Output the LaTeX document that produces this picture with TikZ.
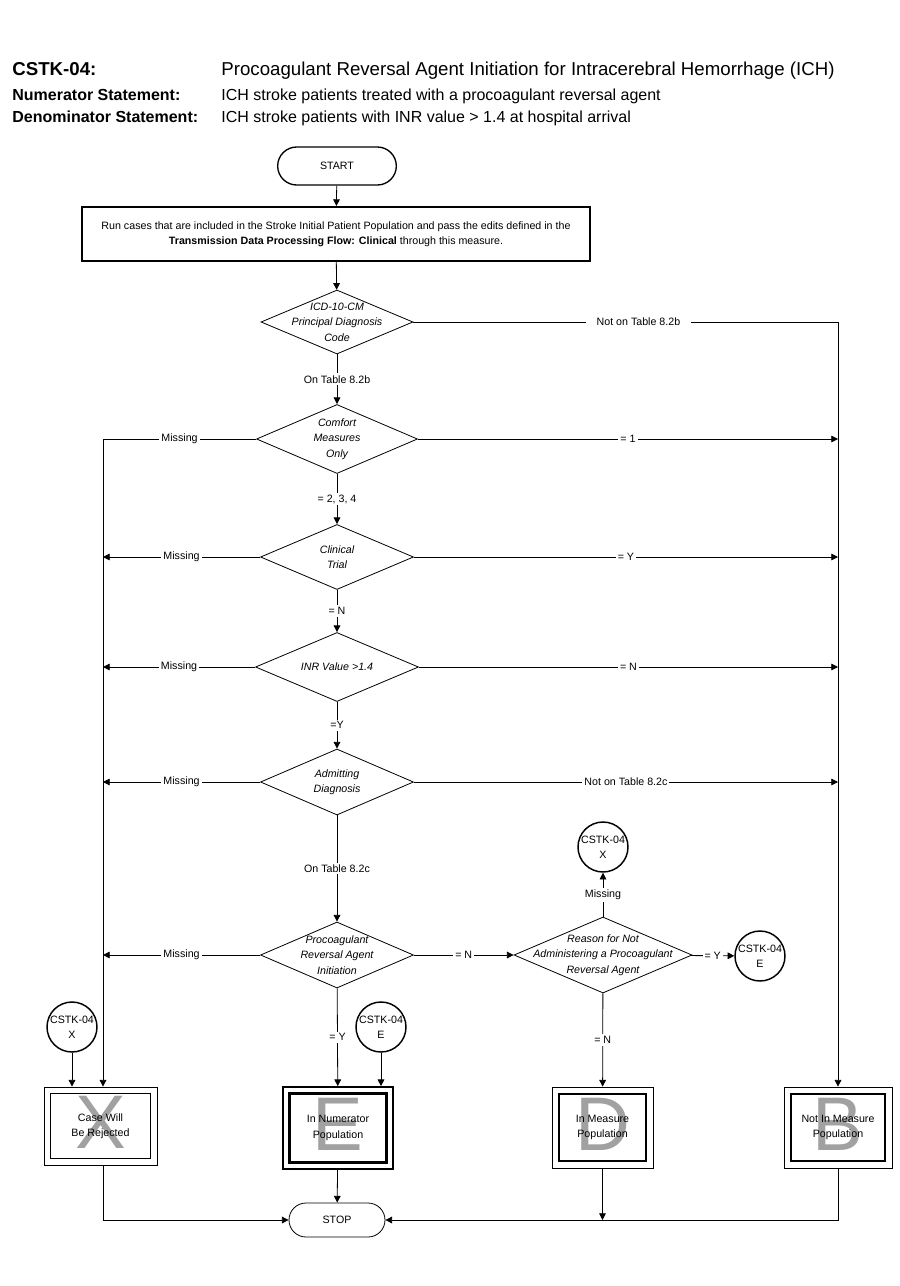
\documentclass[tikz,border=0pt]{standalone}
\usepackage{fontspec}
\setmainfont{Liberation Sans}
\usepackage{tikz}
\usetikzlibrary{arrows.meta,calc,shapes.geometric}

\newcommand{\ftxt}{\fontsize{8}{11.5}\selectfont}
\newcommand{\bigltr}{\fontsize{57}{57}\selectfont}

\tikzset{
  arr/.style={-{Triangle[length=5pt,width=5pt]}},
  lbl/.style={fill=white, inner sep=1.5pt, font=\ftxt},
  term/.style 2 args={draw, rectangle, rounded corners=#2/2, minimum width=#1, minimum height=#2, inner sep=0pt, font=\ftxt},
  dec/.style n args={3}{diamond, draw, inner sep=0pt, minimum width=#1, minimum height=#2,
    label={[align=center, font=\ftxt\itshape]center:#3}},
  conn/.style={circle, draw, line width=1.1pt, inner sep=0pt, minimum size=37.5pt,
    label={[align=center, font=\ftxt]center:#1}},
  endbox/.style n args={4}{draw, minimum width=#1, minimum height=#2, inner sep=0pt, align=center, font=\ftxt,
    path picture={
      \node[text=black!37, font=\bigltr, inner sep=0pt] at ([yshift=2.5pt]path picture bounding box.center) {#3};
      \draw[line width=#4] ([shift={(5pt,-5pt)}]path picture bounding box.north west)
        rectangle ([shift={(-5pt,5pt)}]path picture bounding box.south east);
    }},
}

\begin{document}
\begin{tikzpicture}[x=0.75pt, y=-0.75pt, line width=0.6pt]
	\useasboundingbox (0,0) rectangle (900,1286);
	% heading
	\node[anchor=base west, inner sep=0pt, font=\fontsize{14}{16}\selectfont\bfseries] (hdA) at (12,75) {CSTK-04:};
	\node[anchor=base west, inner sep=0pt, font=\fontsize{14}{16}\selectfont] (hdAt) at (221,75) {Procoagulant Reversal Agent Initiation for Intracerebral Hemorrhage (ICH)};
	\node[anchor=base west, inner sep=0pt, font=\fontsize{12}{14}\selectfont\bfseries] (hdN) at (12,100) {Numerator Statement:};
	\node[anchor=base west, inner sep=0pt, font=\fontsize{12}{14}\selectfont] (hdNt) at (221,100) {ICH stroke patients treated with a procoagulant reversal agent};
	\node[anchor=base west, inner sep=0pt, font=\fontsize{12}{14}\selectfont\bfseries] (hdD) at (12,122) {Denominator Statement:};
	\node[anchor=base west, inner sep=0pt, font=\fontsize{12}{14}\selectfont] (hdDt) at (221,122) {ICH stroke patients with INR value > 1.4 at hospital arrival};
%
	\node[term={89pt}{28.5pt}, line width=1pt] (start) at (337,166) {START};
	\node[draw, line width=1.5pt, minimum width=381pt, minimum height=40.5pt, align=center, font=\ftxt] (run) at (336,234)
	  {Run cases that are included in the Stroke Initial Patient Population and pass the edits defined in the\\
	   \textbf{Transmission Data Processing Flow: Clinical} through this measure.};
%
	\node[dec={114pt}{48pt}{ICD-10-CM\\Principal Diagnosis\\Code}] (icd) at (337,322) {};
	\node[dec={120.75pt}{51.75pt}{Comfort\\Measures\\Only}] (cmo) at (337,439) {};
	\node[dec={114.75pt}{48.75pt}{Clinical\\Trial}] (trial) at (337,557) {};
	\node[dec={122.25pt}{51.75pt}{INR Value >1.4}] (inr) at (337,667) {};
	\node[dec={114.75pt}{49.5pt}{Admitting\\Diagnosis}] (adm) at (337,782) {};
	\node[dec={114.75pt}{49.5pt}{Procoagulant\\Reversal Agent\\Initiation}] (pra) at (337,955) {};
	\node[dec={133.5pt}{57pt}{Reason for Not\\Administering a Procoagulant\\Reversal Agent}] (rsn) at (603,955) {};
%
	\node[conn={CSTK-04\\X}] (cxTop) at (603,847) {};
	\node[conn={CSTK-04\\E}] (ceRgt) at (760,956) {};
	\node[conn={CSTK-04\\X}] (cxBot) at (72,1027) {};
	\node[conn={CSTK-04\\E}] (ceBot) at (381,1027) {};
%
	\node[endbox={84.75pt}{58.5pt}{X}{1.1pt}] (rej) at (100.5,1126) {Case Will\\Be Rejected};
	\node[endbox={82.5pt}{61.5pt}{E}{2pt}, line width=1.3pt] (num) at (338,1128) {In Numerator\\Population};
	\node[endbox={75.75pt}{60.75pt}{D}{1.4pt}] (den) at (602.5,1127.5) {In Measure\\Population};
	\node[endbox={81pt}{60.75pt}{B}{1.4pt}] (notin) at (838,1127.5) {Not In Measure\\Population};
	\node[term={72pt}{25.5pt}] (stop) at (337,1220) {STOP};
%
	\coordinate (lft) at (103,439);
	\coordinate (rgt) at (838,322);
%
	\draw[arr] (start) -- (run);
	\draw[arr] (run) -- (icd);
	\draw[arr] (icd) -- node[lbl] {On Table 8.2b} (cmo);
	\draw[arr] (cmo) -- node[lbl] {= 2, 3, 4} (trial);
	\draw[arr] (trial) -- node[lbl] {= N} (inr);
	\draw[arr] (inr) -- node[lbl] {=Y} (adm);
	\draw[arr] (adm) -- node[lbl] {On Table 8.2c} (pra);
	\draw[arr] (pra) -- node[lbl] {= Y} (num);
	\draw[arr] (pra) -- node[lbl] {= N} (rsn);
	\draw[arr] (rsn) -- node[lbl] {Missing} (cxTop);
	\draw[arr] (rsn) -- node[lbl] {= Y} (ceRgt);
	\draw[arr] (rsn) -- node[lbl] {= N} (den);
%
	% missing -> rejected
	\draw[arr] (cmo.west) -- node[lbl] {Missing} (lft) -- (lft |- rej.north);
	\draw[arr] (trial.west) -- node[lbl] {Missing} (lft |- trial);
	\draw[arr] (inr.west) -- node[lbl] {Missing} (lft |- inr);
	\draw[arr] (adm.west) -- node[lbl] {Missing} (lft |- adm);
	\draw[arr] (pra.west) -- node[lbl] {Missing} (lft |- pra);
%
	% not in measure
	\draw[arr] (icd.east) -- node[lbl, inner xsep=8pt, pos=0.53] {Not on Table 8.2b} (rgt) -- (rgt |- notin.north);
	\draw[arr] (cmo.east) -- node[lbl] {= 1} (rgt |- cmo);
	\draw[arr] (trial.east) -- node[lbl] {= Y} (rgt |- trial);
	\draw[arr] (inr.east) -- node[lbl] {= N} (rgt |- inr);
	\draw[arr] (adm.east) -- node[lbl] {Not on Table 8.2c} (rgt |- adm);
%
	\draw[arr] (cxBot) -- (cxBot |- rej.north);
	\draw[arr] (ceBot) -- (ceBot |- num.north);
%
	\draw[arr] (num) -- (stop);
	\draw[arr] (lft |- rej.south) |- (stop.west);
	\draw[arr] (notin.south) |- (stop.east);
	\draw[arr] (den.south) -- (den |- stop);
\end{tikzpicture}
\end{document}
